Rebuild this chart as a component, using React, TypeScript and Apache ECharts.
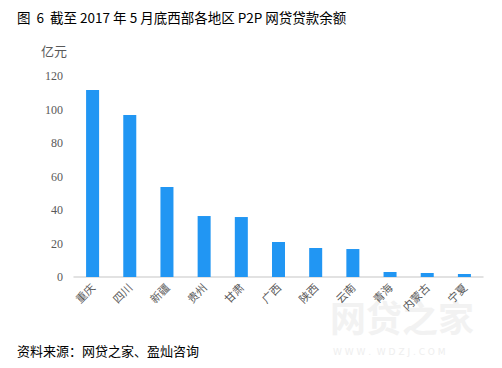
import React, { useEffect, useRef } from "react";
import * as echarts from "echarts";

const categories = ["重庆", "四川", "新疆", "贵州", "甘肃", "广西", "陕西", "云南", "青海", "内蒙古", "宁夏"];
const values = [111.6, 96.7, 53.7, 36.4, 35.8, 20.9, 17.3, 16.7, 3.0, 2.4, 1.8];
const titleText = "图  6  截至 2017 年 5 月底西部各地区 P2P 网贷贷款余额";
const sourceText = "资料来源：网贷之家、盈灿咨询";
const unitText = "亿元";

export default function App() {
  const ref = useRef<HTMLDivElement>(null);
  useEffect(() => {
    if (!ref.current) return;
    const chart = echarts.init(ref.current, null, { renderer: "svg" });
    chart.setOption({
      animation: false,
      backgroundColor: "#ffffff",
      grid: { left: 74, right: 19, top: 76, bottom: 91, containLabel: false },
      xAxis: {
        type: "category",
        data: categories,
        axisLine: { lineStyle: { color: "#d9d9d9", width: 1.5 } },
        axisTick: { show: false },
        axisLabel: {
          rotate: 45,
          color: "#595959",
          fontSize: 11,
          margin: 8,
          interval: 0,
          fontFamily: "Noto Sans CJK SC",
        },
      },
      yAxis: {
        type: "value",
        min: 0,
        max: 120,
        interval: 20,
        axisLine: { show: false },
        axisTick: { show: false },
        splitLine: { show: false },
        axisLabel: {
          color: "#595959",
          fontSize: 12,
          margin: 11,
          fontFamily: "Liberation Serif",
        },
      },
      series: [
        {
          type: "bar",
          data: values,
          barWidth: "35%",
          itemStyle: { color: "#2196F3" },
        },
      ],
      graphic: [
        {
          type: "text",
          left: 17,
          top: 10,
          style: { text: titleText, fontSize: 13.5, fill: "#000", fontFamily: "Noto Sans CJK SC" },
        },
        {
          type: "text",
          left: 41,
          top: 44,
          style: { text: unitText, fontSize: 13, fill: "#595959", fontFamily: "Noto Sans CJK SC" },
        },
        {
          type: "text",
          left: 17,
          top: 344,
          style: { text: sourceText, fontSize: 13, fill: "#000", fontFamily: "Noto Sans CJK SC" },
        },
        {
          type: "text",
          left: 330,
          top: 298,
          z: -1,
          style: { text: "网贷之家", fontSize: 36, fontWeight: "bold", fill: "#f2f2f2", fontFamily: "Noto Sans CJK SC" },
        },
        {
          type: "text",
          left: 333,
          top: 347,
          z: -1,
          style: { text: "W W W .  W D Z J . C O M", fontSize: 9, fill: "#eeeeee", fontFamily: "DejaVu Sans" },
        },
      ],
    });
    return () => chart.dispose();
  }, []);
  return <div ref={ref} style={{ position: "fixed", left: 0, top: 0, width: 502, height: 368 }} />;
}
